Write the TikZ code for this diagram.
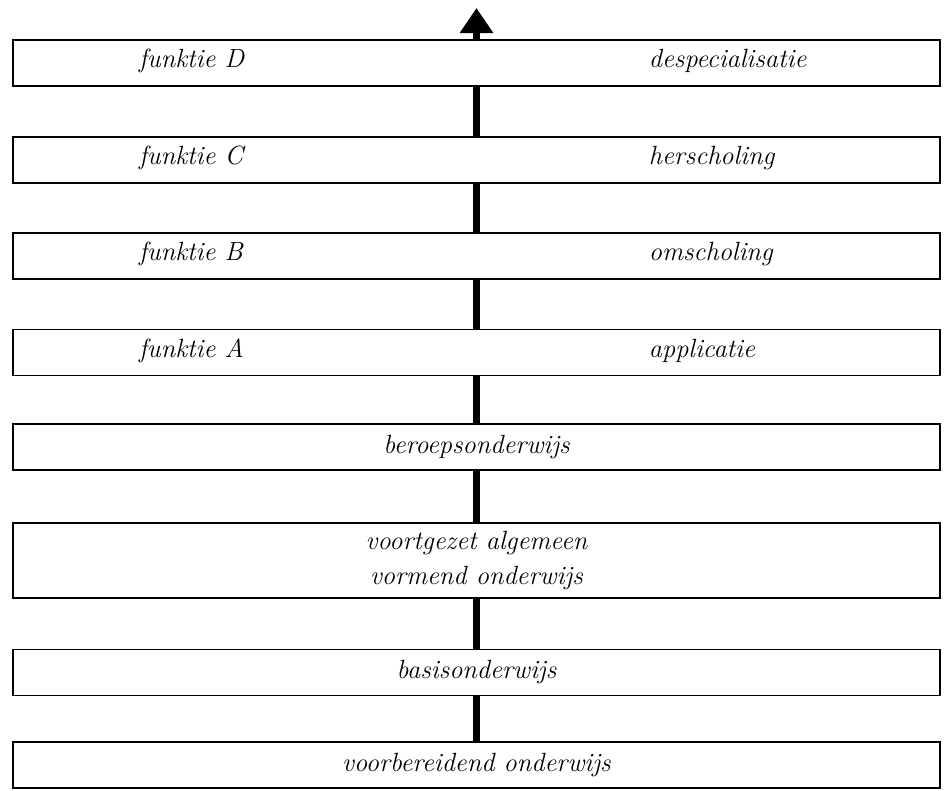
\documentclass[tikz,border=0pt]{standalone}
\usepackage{tikz}
\usetikzlibrary{arrows.meta}
\usetikzlibrary{positioning}

\begin{document}
\begin{tikzpicture}[x=0.02cm,y=-0.02cm,line width=1.1pt,
                    stage/.style={draw,fill=white,inner sep=0pt,outer sep=0pt,
                        minimum width=18.54cm,minimum height=0.92cm,
                        font=\fontsize{15}{20}\selectfont\itshape,align=center},
                    side/.style={inner sep=0pt,anchor=west,text height=1.7ex,text depth=0.5ex,
                        font=\fontsize{15}{20}\selectfont\itshape},
                    spine/.style={line width=3.5pt}]

        \useasboundingbox (0,0) rectangle (950,791);

        \node[stage] (funcD) at (476.5,63) {};
        \node[stage] (funcC) at (476.5,160) {};
        \node[stage] (funcB) at (476.5,256) {};
        \node[stage] (funcA) at (476.5,352.5) {};
        \node[stage] (beroep) at (476.5,447) {beroepsonderwijs};
        \node[stage,minimum height=1.5cm] (vavo) at (476.5,560.5) {voortgezet algemeen\\vormend onderwijs};
        \node[stage] (basis) at (476.5,672.5) {basisonderwijs};
        \node[stage] (voorber) at (476.5,765) {voorbereidend onderwijs};

        \node[side] (lfD) [right=2.5cm of funcD.west] {funktie D};
        \node[side] (lfC) [right=2.5cm of funcC.west] {funktie C};
        \node[side] (lfB) [right=2.5cm of funcB.west] {funktie B};
        \node[side] (lfA) [right=2.5cm of funcA.west] {funktie A};
        \node[side] (rfD) [right=12.7cm of funcD.west] {despecialisatie};
        \node[side] (rfC) [right=12.7cm of funcC.west] {herscholing};
        \node[side] (rfB) [right=12.7cm of funcB.west] {omscholing};
        \node[side] (rfA) [right=12.7cm of funcA.west] {applicatie};

        \coordinate (tip) at (476.5,8);
        \foreach \lo/\hi in {voorber/basis,basis/vavo,vavo/beroep,beroep/funcA,funcA/funcB,funcB/funcC,funcC/funcD}
            \draw[spine] (\lo) -- (\hi);
        \draw[spine,-{Triangle[width=32*0.02cm,length=25*0.02cm]}] (funcD.north) -- (tip);
    \end{tikzpicture}
\end{document}
